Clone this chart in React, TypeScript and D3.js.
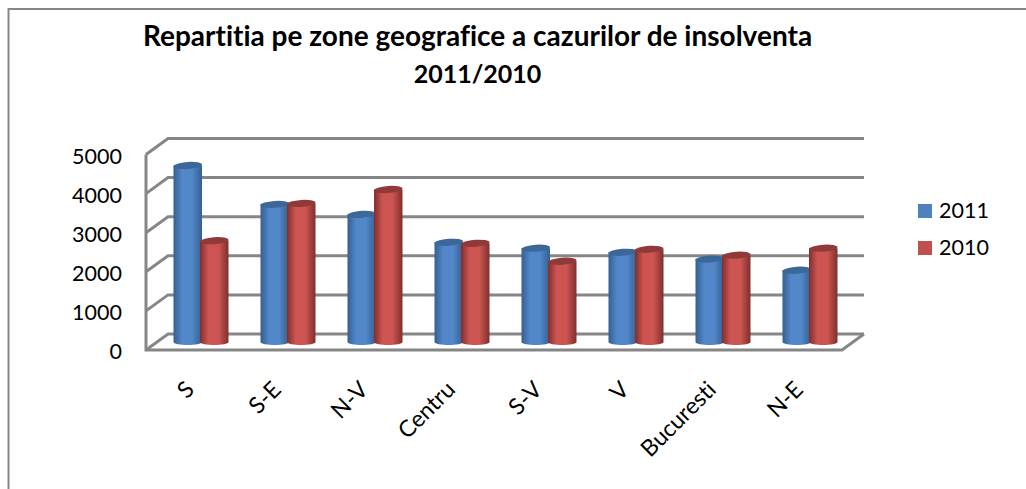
import React from 'react';
import * as d3 from 'd3';

const categories = ['S', 'S-E', 'N-V', 'Centru', 'S-V', 'V', 'Bucuresti', 'N-E'];
const values2011 = [4515, 3520, 3265, 2550, 2400, 2295, 2120, 1835];
const values2010 = [2590, 3545, 3900, 2525, 2065, 2370, 2220, 2400];
const seriesNames = ['2011', '2010'];
const yTicks = [0, 1000, 2000, 3000, 4000, 5000];
const titleLines = ['Repartitia pe zone geografice a cazurilor de insolventa', '2011/2010'];

const width = 1026;
const height = 489;
const font = 'Lato, sans-serif';
const noLigatures = { fontVariantLigatures: 'none' } as React.CSSProperties;
const gridColor = '#868686';
const depthX = 22;
const depthY = -16;

// front plane of the 3d box, the back wall is shifted by depthX/depthY
const x = d3.scaleBand().domain(categories).range([146, 842]);
const y = d3.scaleLinear().domain([0, 5000]).range([350, 154.5]);
const inner = d3.scaleBand().domain(seriesNames).range([0, 53]);

const colors = [
  { dark: '#355f90', mid: '#5287c9', top: '#3b6799', id: 'blue' },
  { dark: '#7f2f2d', mid: '#cc5552', top: '#8f3a38', id: 'red' },
];

const cylinder = (cx: number, rx: number, top: number, bottom: number, ry: number) => {
  const p = d3.path();
  p.moveTo(cx - rx, top);
  p.lineTo(cx - rx, bottom);
  p.bezierCurveTo(cx - rx, bottom + ry * 1.3, cx + rx, bottom + ry * 1.3, cx + rx, bottom);
  p.lineTo(cx + rx, top);
  p.closePath();
  return p.toString();
};

const Bar = ({ cat, value, s }: { cat: string; value: number; s: number }) => {
  const offset = (x.bandwidth() - 53) / 2 + depthX / 2 + 0.5;
  const left = (x(cat) as number) + offset + (inner(seriesNames[s]) as number);
  const cx = left + inner.bandwidth() / 2;
  const rx = inner.bandwidth() / 2 + 1; // neighbours overlap a little
  // bars stand in the middle of the floor depth
  const top = y(value) + depthY / 2;
  const bottom = y(0) + depthY / 2;
  return (
    <g>
      <path d={cylinder(cx, rx, top, bottom, 3)} fill={`url(#${colors[s].id})`} />
      <ellipse
        cx={cx}
        cy={top}
        rx={rx}
        ry={3.5}
        fill={colors[s].top}
        transform={`rotate(-4 ${cx} ${top})`}
      />
    </g>
  );
};

export default function App() {
  const x0 = x.range()[0];
  const x1 = x.range()[1];
  return (
    <svg
      width={width}
      height={height}
      style={{ position: 'absolute', left: 0, top: 0, background: '#fff' }}
    >
      <defs>
        {colors.map(c => (
          <linearGradient key={c.id} id={c.id} x1="0" x2="1" y1="0" y2="0">
            <stop offset="0" stopColor={c.dark} />
            <stop offset="0.3" stopColor={c.mid} />
            <stop offset="0.65" stopColor={c.mid} />
            <stop offset="1" stopColor={c.dark} />
          </linearGradient>
        ))}
      </defs>

      {/* outer chart border */}
      <path d={`M8.5 ${height}V9H${width}`} fill="none" stroke={gridColor} strokeWidth={2} />

      {titleLines.map((t, i) => (
        <text
          key={t}
          x={477.5}
          y={46 + i * 37}
          textAnchor="middle"
          fontFamily={font}
          fontWeight={700}
          fontSize={i === 0 ? 28 : 25}
          fill="#000"
          style={noLigatures}
        >
          {t}
        </text>
      ))}

      {/* walls and gridlines */}
      <g fill="none" stroke={gridColor} strokeWidth={3}>
        {yTicks.map(t => (
          <path
            key={t}
            d={`M${x0} ${y(t)}L${x0 + depthX} ${y(t) + depthY}H${x1 + depthX}`}
          />
        ))}
        <path d={`M${x0} ${y(5000)}V${y(0)}H${x1}L${x1 + depthX} ${y(0) + depthY}`} />
      </g>

      {categories.map((c, i) => (
        <g key={c}>
          <Bar cat={c} value={values2011[i]} s={0} />
          <Bar cat={c} value={values2010[i]} s={1} />
        </g>
      ))}

      {yTicks.map(t => (
        <text
          key={t}
          x={122}
          y={y(t) + 9}
          textAnchor="end"
          fontFamily={font}
          fontSize={21.5}
          fill="#000"
        >
          {t}
        </text>
      ))}

      {categories.map(c => {
        const tx = (x(c) as number) + x.bandwidth() / 2 + 6;
        const ty = 391;
        return (
          <text
            key={c}
            transform={`translate(${tx},${ty}) rotate(-45)`}
            textAnchor="end"
            fontFamily={font}
            fontSize={23}
            fill="#000"
            style={noLigatures}
          >
            {c}
          </text>
        );
      })}

      {seriesNames.map((s, i) => (
        <g key={s} transform={`translate(918,${204 + i * 37})`}>
          <rect width={14} height={14} fill={i === 0 ? '#4f81bd' : '#c0504d'} />
          <text x={21} y={14} fontFamily={font} fontSize={21.5} fill="#000">
            {s}
          </text>
        </g>
      ))}
    </svg>
  );
}
